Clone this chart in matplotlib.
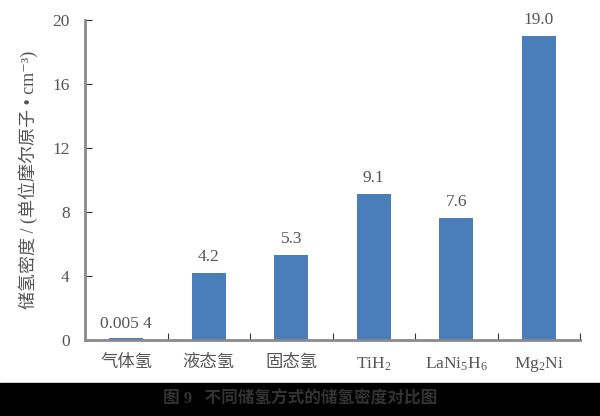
import matplotlib
matplotlib.use("Agg")
import matplotlib.pyplot as plt
from matplotlib.patches import Rectangle

plt.rcParams["font.family"] = ["Liberation Serif", "Noto Sans CJK SC", "DejaVu Sans"]
plt.rcParams["mathtext.fontset"] = "custom"
plt.rcParams["mathtext.rm"] = "Liberation Serif"
plt.rcParams["mathtext.it"] = "Liberation Serif:italic"

categories = ["气体氢", "液态氢", "固态氢", "TiH$_2$", "LaNi$_5$H$_6$", "Mg$_2$Ni"]
values = [0.0054, 4.2, 5.3, 9.1, 7.6, 19.0]
value_labels = ["0.005 4", "4.2", "5.3", "9.1", "7.6", "19.0"]
y_ticks = [0, 4, 8, 12, 16, 20]

text_color = "#555555"
bar_color = "#4a7ebb"
axis_color = "#8a8a8a"

fig = plt.figure(figsize=(6, 4.16), dpi=100)
ax = fig.add_axes([0.1417, 0.1827, 0.825, 0.7693])

x = list(range(len(categories)))
# draw a tiny minimum so the near-zero bar still shows
ax.bar(x, [max(v, 0.12) for v in values], width=0.41, color=bar_color, zorder=2)

for xi, v, lab in zip(x, values, value_labels):
    ax.text(xi, v + 0.5, lab, ha="center", va="bottom", fontsize=12.5, color=text_color)

ax.set_xlim(-0.5, len(categories) - 0.5)
ax.set_ylim(0, 20)
ax.set_yticks(y_ticks)
ax.set_yticklabels([str(t) for t in y_ticks], fontsize=12.5, color=text_color)

# category labels between the tick marks
ax.set_xticks([i + 0.5 for i in range(-1, len(categories))])
ax.set_xticklabels([])
ax.set_xticks(x, minor=True)
ax.set_xticklabels(categories, minor=True, fontsize=12.5, color=text_color)
ax.tick_params(axis="x", which="minor", length=0, pad=11)
ax.tick_params(axis="x", which="major", direction="in", length=5, color="#333333")
ax.tick_params(axis="y", direction="in", length=5, color="#333333", pad=11)

for side in ["top", "right"]:
    ax.spines[side].set_visible(False)
for side in ["left", "bottom"]:
    ax.spines[side].set_color(axis_color)
    ax.spines[side].set_linewidth(2)

ax.set_ylabel("储氢密度 / (单位摩尔原子 • cm⁻³)", fontsize=13, color=text_color, labelpad=10)

# dark caption strip at the bottom
fig.patches.append(Rectangle((0, 0), 1, 0.079, transform=fig.transFigure, color="black", zorder=0))
fig.text(0.5, 0.04, "图 9   不同储氢方式的储氢密度对比图", ha="center", va="center",
         fontsize=12, fontweight="bold", color="#333333")

fig.savefig("out.png", dpi=100)
